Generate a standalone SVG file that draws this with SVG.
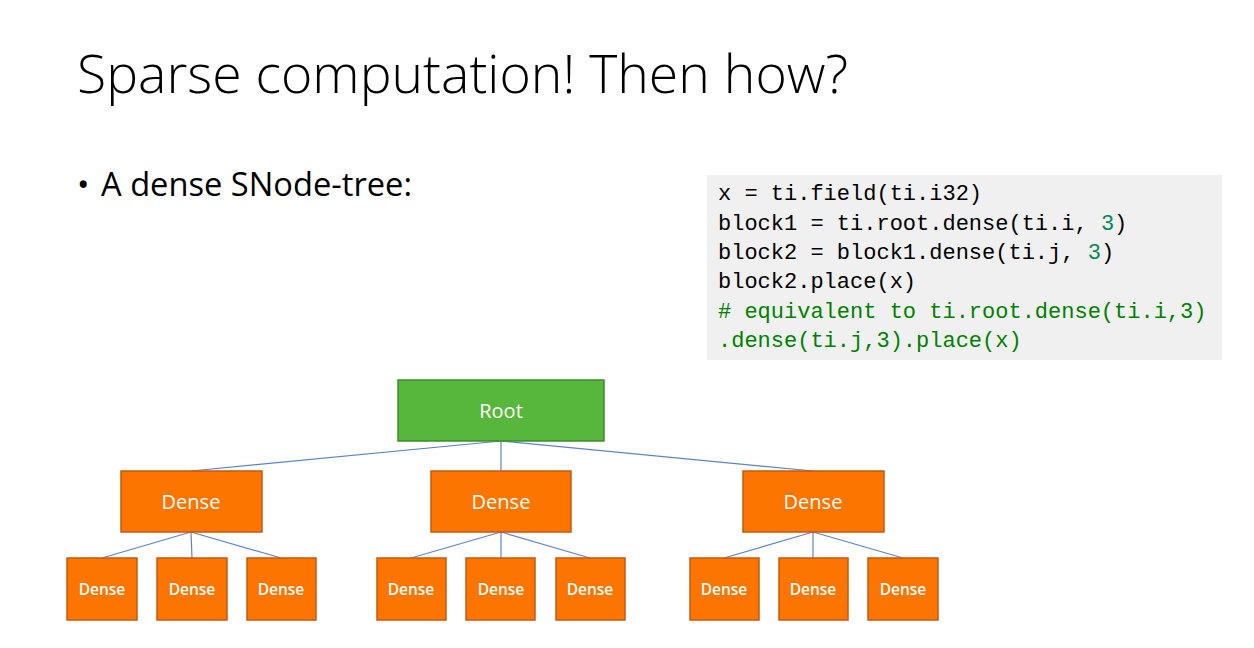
<svg xmlns="http://www.w3.org/2000/svg" width="1254" height="648" viewBox="0 0 1254 648">
<style>
.title{font-family:"Open Sans","Liberation Sans",sans-serif;font-weight:300;font-size:53px;fill:#000}
.bullet{font-family:"Open Sans","Liberation Sans",sans-serif;font-size:33px;fill:#000}
.code{font-family:"Liberation Mono","DejaVu Sans Mono",monospace;font-size:22px;fill:#000}
.num{fill:#09885a}
.cmt{fill:#008000}
.root{fill:#57b63c;stroke:#3f8a2b;stroke-width:1.5}
.org{fill:#fb7500;stroke:#c45a10;stroke-width:1.5}
.lbl{font-family:"Open Sans","Liberation Sans",sans-serif;font-size:20px;fill:#fff;text-anchor:middle}
.slbl{font-family:"Open Sans","Liberation Sans",sans-serif;font-size:15.5px;font-weight:600;fill:#fff;text-anchor:middle}
.edge{stroke:#5b84d0;stroke-width:1.2;fill:none}
</style>
<rect width="1254" height="648" fill="#fff"/>
<text class="title" x="77" y="93" textLength="771" lengthAdjust="spacingAndGlyphs">Sparse computation! Then how?</text>
<text class="bullet" x="77" y="196">•</text>
<text class="bullet" x="101" y="196" textLength="311" lengthAdjust="spacingAndGlyphs">A dense SNode-tree:</text>
<g id="code">
<rect x="707" y="175" width="515" height="185" fill="#f0f0f0"/>
<text class="code" x="718" y="200">x = ti.field(ti.i32)</text>
<text class="code" x="718" y="230">block1 = ti.root.dense(ti.i, <tspan class="num">3</tspan>)</text>
<text class="code" x="718" y="259">block2 = block1.dense(ti.j, <tspan class="num">3</tspan>)</text>
<text class="code" x="718" y="288">block2.place(x)</text>
<text class="code cmt" x="718" y="318">#  equivalent to ti.root.dense(ti.i,3)</text>
<text class="code cmt" x="718" y="347">.dense(ti.j,3).place(x)</text>
</g>
<g id="connectors">
<line class="edge" x1="501" y1="441" x2="191" y2="471"/>
<line class="edge" x1="501" y1="441" x2="501" y2="471"/>
<line class="edge" x1="501" y1="441" x2="813" y2="471"/>
<line class="edge" x1="191" y1="532" x2="102" y2="558"/>
<line class="edge" x1="191" y1="532" x2="192" y2="558"/>
<line class="edge" x1="191" y1="532" x2="281" y2="558"/>
<line class="edge" x1="501" y1="532" x2="411" y2="558"/>
<line class="edge" x1="501" y1="532" x2="501" y2="558"/>
<line class="edge" x1="501" y1="532" x2="590" y2="558"/>
<line class="edge" x1="813" y1="532" x2="724" y2="558"/>
<line class="edge" x1="813" y1="532" x2="813" y2="558"/>
<line class="edge" x1="813" y1="532" x2="903" y2="558"/>
</g>
<g id="root"><rect class="root" x="398" y="380" width="206" height="61"/><text class="lbl" x="501" y="418">Root</text></g>
<g id="d1"><rect class="org" x="121" y="471" width="141" height="61"/><text class="lbl" x="191" y="509">Dense</text></g>
<g id="d2"><rect class="org" x="431" y="471" width="140" height="61"/><text class="lbl" x="501" y="509">Dense</text></g>
<g id="d3"><rect class="org" x="743" y="471" width="141" height="61"/><text class="lbl" x="813" y="509">Dense</text></g>
<g id="d11"><rect class="org" x="67" y="558" width="70" height="62"/><text class="slbl" x="102" y="595">Dense</text></g>
<g id="d12"><rect class="org" x="157" y="558" width="70" height="62"/><text class="slbl" x="192" y="595">Dense</text></g>
<g id="d13"><rect class="org" x="247" y="558" width="69" height="62"/><text class="slbl" x="281" y="595">Dense</text></g>
<g id="d21"><rect class="org" x="377" y="558" width="69" height="62"/><text class="slbl" x="411" y="595">Dense</text></g>
<g id="d22"><rect class="org" x="466" y="558" width="69" height="62"/><text class="slbl" x="501" y="595">Dense</text></g>
<g id="d23"><rect class="org" x="556" y="558" width="69" height="62"/><text class="slbl" x="590" y="595">Dense</text></g>
<g id="d31"><rect class="org" x="690" y="558" width="69" height="62"/><text class="slbl" x="724" y="595">Dense</text></g>
<g id="d32"><rect class="org" x="779" y="558" width="69" height="62"/><text class="slbl" x="813" y="595">Dense</text></g>
<g id="d33"><rect class="org" x="868" y="558" width="70" height="62"/><text class="slbl" x="903" y="595">Dense</text></g>
</svg>
